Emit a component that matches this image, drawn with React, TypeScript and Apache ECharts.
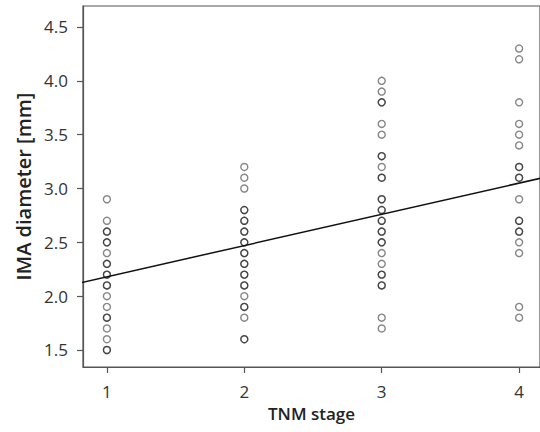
import React, { useEffect, useRef } from "react";
import * as echarts from "echarts";

// IMA diameter [mm] by TNM stage (duplicates = overlapping circles)
const stage1: number[] = [2.9, 2.7, 2.6, 2.6, 2.5, 2.5, 2.4, 2.3, 2.3, 2.2, 2.2, 2.1, 2.1, 2.0, 1.9, 1.8, 1.8, 1.7, 1.6, 1.5, 1.5];
const stage2: number[] = [3.2, 3.1, 3.0, 2.8, 2.8, 2.7, 2.7, 2.6, 2.6, 2.5, 2.5, 2.4, 2.4, 2.3, 2.3, 2.2, 2.2, 2.1, 2.1, 2.0, 1.9, 1.9, 1.8, 1.6, 1.6];
const stage3: number[] = [4.0, 3.9, 3.8, 3.8, 3.6, 3.5, 3.3, 3.3, 3.2, 3.1, 3.1, 2.9, 2.9, 2.8, 2.8, 2.7, 2.7, 2.6, 2.6, 2.5, 2.5, 2.4, 2.3, 2.2, 2.2, 2.1, 2.1, 1.8, 1.7];
const stage4: number[] = [4.3, 4.2, 3.8, 3.6, 3.5, 3.4, 3.2, 3.2, 3.1, 3.1, 2.9, 2.7, 2.7, 2.6, 2.6, 2.5, 2.4, 1.9, 1.8];
const stages: number[] = [1, 2, 3, 4];
const xTicks: number[] = [1, 2, 3, 4];
const yTicks: number[] = [1.5, 2.0, 2.5, 3.0, 3.5, 4.0, 4.5];
// fitted regression line
const fitIntercept = 1.89;
const fitSlope = 0.29;
const fitX: number[] = [0.8, 4.2];

const X_MIN = 0.826;
const X_MAX = 4.152;
const Y_MIN = 1.342;
const Y_MAX = 4.695;

export default function App() {
  const ref = useRef<HTMLDivElement>(null);
  useEffect(() => {
    if (!ref.current) return;
    const chart = echarts.init(ref.current, null, { renderer: "svg" });
    const groups = [stage1, stage2, stage3, stage4];
    const points: number[][] = [];
    groups.forEach((g, i) => g.forEach((v) => points.push([stages[i], v])));
    const linePts = fitX.map((x) => [x, fitIntercept + fitSlope * x]);
    const axisColor = "#555";
    const labelFont = { fontFamily: "Open Sans", fontSize: 17, color: "#333" };
    chart.setOption({
      animation: false,
      backgroundColor: "#fff",
      grid: {
        left: 83,
        top: 6,
        right: -2,
        bottom: 65,
        show: true,
        borderColor: axisColor,
        borderWidth: 1.2,
        backgroundColor: "transparent",
      },
      xAxis: {
        type: "value",
        min: X_MIN,
        max: X_MAX,
        name: "TNM stage",
        nameLocation: "middle",
        nameGap: 32,
        nameTextStyle: { fontFamily: "Open Sans", fontSize: 17, fontWeight: 600, color: "#222" },
        splitLine: { show: false },
        axisLine: { show: true, lineStyle: { color: axisColor, width: 1.2 } },
        axisTick: { show: true, length: 6, customValues: xTicks, lineStyle: { color: axisColor, width: 1.2 } },
        axisLabel: { ...labelFont, margin: 16, customValues: xTicks, formatter: (v: number) => String(v) },
      },
      yAxis: {
        type: "value",
        min: Y_MIN,
        max: Y_MAX,
        name: "IMA diameter [mm]",
        nameLocation: "middle",
        nameGap: 48,
        nameTextStyle: { fontFamily: "Open Sans", fontSize: 20, fontWeight: 600, color: "#222" },
        splitLine: { show: false },
        axisLine: { show: true, lineStyle: { color: axisColor, width: 1.2 } },
        axisTick: { show: true, length: 6, customValues: yTicks, lineStyle: { color: axisColor, width: 1.2 } },
        axisLabel: { ...labelFont, margin: 15, customValues: yTicks, formatter: (v: number) => v.toFixed(1) },
      },
      series: [
        {
          type: "scatter",
          data: points,
          symbol: "circle",
          symbolSize: 7,
          itemStyle: { color: "none", borderColor: "rgba(0,0,0,0.6)", borderWidth: 1.4 },
          z: 2,
        },
        {
          type: "line",
          data: linePts,
          showSymbol: false,
          symbol: "none",
          clip: true,
          lineStyle: { color: "#111", width: 1.5 },
          z: 3,
        },
      ],
    });
    return () => chart.dispose();
  }, []);
  return (
    <div
      ref={ref}
      style={{ position: "fixed", left: 0, top: 0, width: 540, height: 432, background: "#fff" }}
    />
  );
}
